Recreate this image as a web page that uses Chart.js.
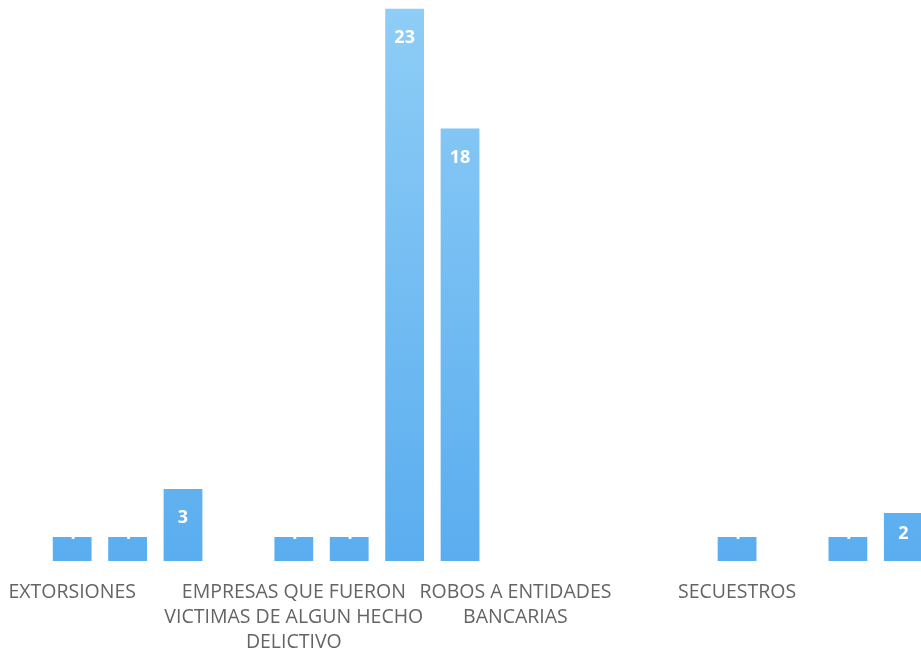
<!DOCTYPE html>
<html>
<head>
<meta charset="utf-8">
<script src="https://cdn.jsdelivr.net/npm/chart.js@4/dist/chart.umd.min.js"></script>
<style>
  html, body { margin: 0; padding: 0; background: #ffffff; overflow: hidden; }
  #outer { width: 921px; height: 657px; overflow: hidden; position: relative; }
  #wrap { position: absolute; left: -11.6px; top: 0; width: 943px; height: 678px; }
</style>
</head>
<body>
<div id="outer"><div id="wrap"><canvas id="c"></canvas></div></div>
<script>
// Categories (only every 4th label is legible in the reference; others unknown)
const categories = [
  'EXTORSIONES', '', '', '',
  ['EMPRESAS QUE FUERON', 'VICTIMAS DE ALGUN HECHO', 'DELICTIVO'], '', '', '',
  ['ROBOS A ENTIDADES', 'BANCARIAS'], '', '', '',
  'SECUESTROS', '', '', ''
];
const values = [1, 1, 3, null, 1, 1, 23, 18, null, null, null, null, 1, null, 1, 2];

const labelPlugin = {
  id: 'insideEndLabels',
  afterDatasetsDraw(chart) {
    const ctx = chart.ctx;
    const meta = chart.getDatasetMeta(0);
    const base = chart.scales.y.getPixelForValue(0);
    ctx.save();
    ctx.fillStyle = '#ffffff';
    ctx.font = 'bold 18px "Open Sans", sans-serif';
    ctx.textAlign = 'center';
    ctx.textBaseline = 'middle';
    meta.data.forEach((bar, i) => {
      const v = values[i];
      if (v === null || v === undefined) return;
      const yc = Math.min(bar.y + 29, base - 27);
      ctx.fillText(String(v), bar.x, yc);
    });
    ctx.restore();
  }
};

const ctx = document.getElementById('c').getContext('2d');
new Chart(ctx, {
  type: 'bar',
  data: {
    labels: categories,
    datasets: [{
      data: values,
      backgroundColor: (c) => {
        const area = c.chart.chartArea;
        if (!area) return '#62B2EE';
        const g = c.chart.ctx.createLinearGradient(0, area.top, 0, area.bottom);
        g.addColorStop(0, '#8ECDF6');
        g.addColorStop(1, '#5AADEF');
        return g;
      },
      borderWidth: 0,
      categoryPercentage: 1.0,
      barPercentage: 0.7
    }]
  },
  options: {
    responsive: true,
    maintainAspectRatio: false,
    animation: false,
    layout: { padding: { top: 8.4, left: 45, right: 0, bottom: 4 } },
    plugins: { legend: { display: false }, tooltip: { enabled: false } },
    scales: {
      x: {
        grid: { display: false, drawTicks: false },
        border: { display: false },
        ticks: {
          autoSkip: false,
          maxRotation: 0,
          minRotation: 0,
          padding: 19,
          color: '#646464',
          font: { family: '"Open Sans", sans-serif', size: 19.5, lineHeight: 25 / 19.5 }
        }
      },
      y: {
        display: false,
        min: 0,
        max: 23
      }
    }
  },
  plugins: [labelPlugin]
});
</script>
</body>
</html>
